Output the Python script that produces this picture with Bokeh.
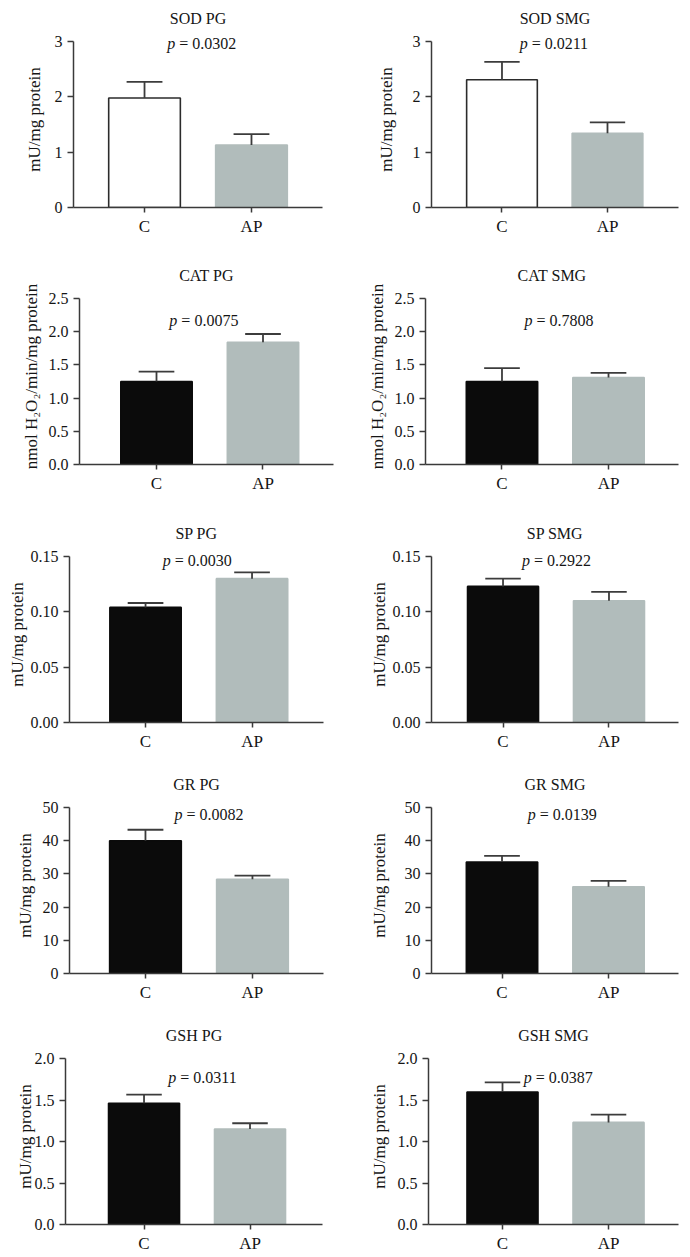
from bokeh.plotting import figure
from bokeh.layouts import column, row
from bokeh.models import Range1d, FixedTicker, Label, ColumnDataSource, PrintfTickFormatter
from bokeh.embed import file_html
from bokeh.resources import INLINE

# ---------------- data ----------------
categories = ["C", "AP"]
titles = ["SOD PG", "SOD SMG", "CAT PG", "CAT SMG", "SP PG", "SP SMG",
          "GR PG", "GR SMG", "GSH PG", "GSH SMG"]
y_axis_labels = ["mU/mg protein", "mU/mg protein",
                 "nmol H\u2082O\u2082/min/mg protein", "nmol H\u2082O\u2082/min/mg protein",
                 "mU/mg protein", "mU/mg protein",
                 "mU/mg protein", "mU/mg protein",
                 "mU/mg protein", "mU/mg protein"]
mean_c = [1.98, 2.31, 1.25, 1.25, 0.104, 0.123, 40.0, 33.6, 1.46, 1.595]
mean_ap = [1.13, 1.34, 1.84, 1.31, 0.130, 0.110, 28.4, 26.1, 1.15, 1.23]
sem_c = [0.29, 0.32, 0.15, 0.20, 0.004, 0.007, 3.3, 1.8, 0.105, 0.118]
sem_ap = [0.195, 0.20, 0.125, 0.07, 0.0056, 0.008, 1.1, 1.8, 0.07, 0.093]
p_values = ["0.0302", "0.0211", "0.0075", "0.7808", "0.0030", "0.2922",
            "0.0082", "0.0139", "0.0311", "0.0387"]
y_ticks = [[0, 1, 2, 3], [0, 1, 2, 3],
           [0, 0.5, 1.0, 1.5, 2.0, 2.5], [0, 0.5, 1.0, 1.5, 2.0, 2.5],
           [0, 0.05, 0.10, 0.15], [0, 0.05, 0.10, 0.15],
           [0, 10, 20, 30, 40, 50], [0, 10, 20, 30, 40, 50],
           [0, 0.5, 1.0, 1.5, 2.0], [0, 0.5, 1.0, 1.5, 2.0]]
tick_decimals = [0, 0, 1, 1, 2, 2, 0, 0, 1, 1]

# ---------------- layout / style ----------------
frame_left = [73, 431, 79, 425, 69, 431, 69, 431, 65, 428]      # page px
frame_right = [322, 678, 333, 678, 323, 678, 323, 678, 322, 678]
x_start = [-0.664, -0.668, -0.723, -0.718, -0.714, -0.675, -0.710, -0.662, -0.741, -0.698]
x_end = [1.664, 1.673, 1.662, 1.657, 1.671, 1.656, 1.664, 1.657, 1.684, 1.660]
p_x = [0.53, 0.49, 0.44, 0.53, 0.48, 0.50, 0.59, 0.56, 0.55, 0.52]
p_y = [2.96, 2.96, 2.17, 2.17, 0.1464, 0.1464, 47.9, 47.8, 1.77, 1.77]
label_standoff = [8, 14, 5, 5, 1, 1, 5, 13, -3, 6]
c_fill = ["white", "white"] + ["#0b0b0b"] * 8
c_line = ["#2b2b2b", "#2b2b2b"] + [None] * 8
ap_fill = "#b1bcbb"
row_heights = [257, 258, 251, 251, 240]
row_bottoms = [50, 51, 44, 44, 33]
col_x = [0, 345]
col_w = 345
BORDER_TOP = 31  # px between row top and the frame top
HEADROOM = 10    # px of frame above the top tick (room for p-value text)
AXIS_H = 166     # px from 0 to the top tick
BAR_W = 0.67
FONT = "Liberation Serif"
AXIS_COL = "#3a3a3a"
TEXT_COL = "#151515"


def make_panel(i):
    r, c = divmod(i, 2)
    fig_left = col_x[c]
    ymax = y_ticks[i][-1]
    p = figure(width=col_w, height=row_heights[r], output_backend="svg",
               toolbar_location=None, title=titles[i],
               x_range=Range1d(x_start[i], x_end[i]),
               y_range=Range1d(0, ymax * (1 + HEADROOM / AXIS_H)))
    p.min_border_left = frame_left[i] - fig_left
    p.min_border_right = fig_left + col_w - frame_right[i]
    p.min_border_top = BORDER_TOP
    p.min_border_bottom = row_bottoms[r]
    p.outline_line_color = None
    p.xgrid.visible = False
    p.ygrid.visible = False

    p.title.align = "center"
    p.title.text_font = FONT
    p.title.text_font_style = "normal"
    p.title.text_font_size = "16px"
    p.title.text_color = TEXT_COL
    p.title.standoff = 10

    xs = list(range(len(categories)))
    means = [mean_c[i], mean_ap[i]]
    sems = [sem_c[i], sem_ap[i]]
    tops = [m + s for m, s in zip(means, sems)]
    src = ColumnDataSource(dict(x=xs, mean=means, top=tops,
                                cap0=[x - BAR_W / 4 for x in xs],
                                cap1=[x + BAR_W / 4 for x in xs],
                                fill=[c_fill[i], ap_fill],
                                line=[c_line[i] or c_fill[i], ap_fill]))
    p.vbar(x="x", top="mean", width=BAR_W, bottom=0, source=src,
           fill_color="fill", line_color="line", line_width=1.6)
    p.segment(x0="x", y0="mean", x1="x", y1="top", source=src,
              line_color="#3c3c3c", line_width=1.8)
    p.segment(x0="cap0", y0="top", x1="cap1", y1="top", source=src,
              line_color="#3c3c3c", line_width=1.8)

    # p-value label
    p.add_layout(Label(x=p_x[i], y=p_y[i], text="p", x_offset=-26,
                       text_align="right", text_baseline="middle",
                       text_font=FONT, text_font_style="italic",
                       text_font_size="16px", text_color=TEXT_COL))
    p.add_layout(Label(x=p_x[i], y=p_y[i], text="= " + p_values[i], x_offset=-22,
                       text_align="left", text_baseline="middle",
                       text_font=FONT, text_font_size="16px", text_color=TEXT_COL))

    # axes
    for ax in (p.xaxis[0], p.yaxis[0]):
        ax.axis_line_color = AXIS_COL
        ax.axis_line_width = 1.5
        ax.major_tick_line_color = AXIS_COL
        ax.major_tick_line_width = 1.5
        ax.major_tick_in = 0
        ax.minor_tick_line_color = None
        ax.major_label_text_font = FONT
        ax.major_label_text_color = TEXT_COL
    xa = p.xaxis[0]
    xa.ticker = FixedTicker(ticks=xs)
    xa.major_label_overrides = {x: cat for x, cat in zip(xs, categories)}
    xa.major_tick_out = 5
    xa.major_label_standoff = 4
    xa.major_label_text_font_size = "17px"
    ya = p.yaxis[0]
    ya.ticker = FixedTicker(ticks=y_ticks[i])
    ya.bounds = (0, ymax)
    ya.formatter = PrintfTickFormatter(format="%%.%df" % tick_decimals[i])
    ya.major_tick_out = 6
    ya.major_label_standoff = 5
    ya.major_label_text_font_size = "16px"
    ya.axis_label = y_axis_labels[i]
    ya.axis_label_text_font = FONT
    ya.axis_label_text_font_style = "normal"
    ya.axis_label_text_font_size = "17px"
    ya.axis_label_text_color = TEXT_COL
    ya.axis_label_standoff = label_standoff[i]
    return p


panels = [make_panel(i) for i in range(len(titles))]
layout = column(*[row(panels[2 * k], panels[2 * k + 1]) for k in range(5)])

open("out.html", "w").write(file_html(layout, INLINE))
